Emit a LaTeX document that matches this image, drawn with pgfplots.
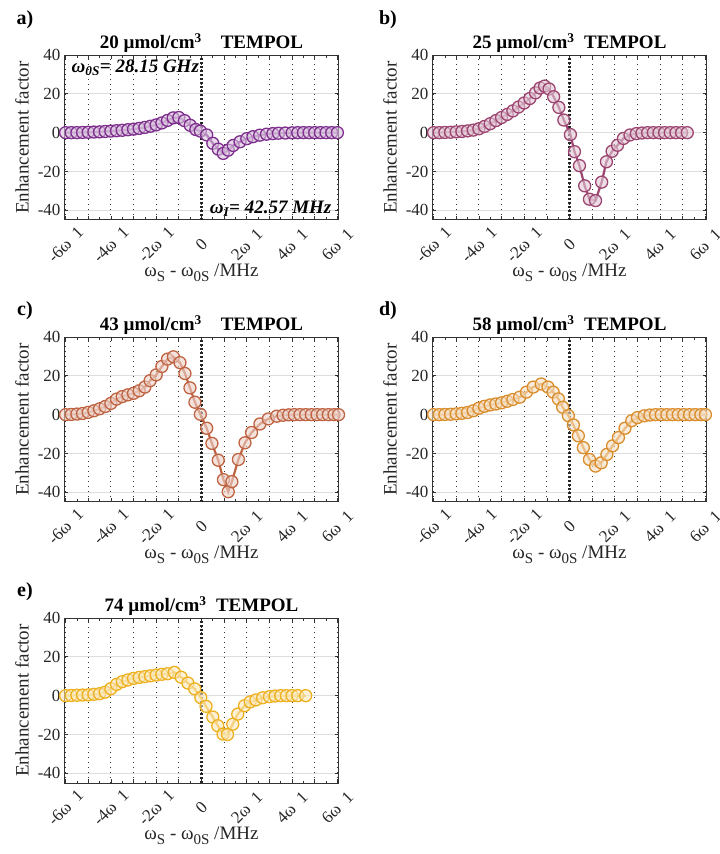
\documentclass[border=0pt]{standalone}
\usepackage{pgfplots}
\pgfplotsset{compat=1.18}
\usepackage{fontspec}
\setmainfont{Liberation Serif}
\definecolor{ca}{HTML}{7E2F8E}
\definecolor{cb}{HTML}{9C4570}
\definecolor{cc}{HTML}{BF6443}
\definecolor{cd}{HTML}{D98D2C}
\definecolor{ce}{HTML}{EDB120}
\newcommand{\sub}[1]{\raisebox{-5pt}{\fontsize{15}{15}\selectfont #1}}
\pgfplotsset{
 panel/.style={
   scale only axis, width=275pt, height=165pt,
   xmin=-6.07, xmax=6.07, ymin=-45, ymax=40,
   xtick={-6,-4,-2,0,2,4,6},
   xticklabels={-6ω~~1,-4ω~~1,-2ω~~1,0,2ω~~1,4ω~~1,6ω~~1},
   minor x tick num=3,
   ytick={-40,-20,0,20,40},
   tick align=inside,
   major tick length=4pt, minor tick length=2.5pt,
   every tick/.style={black!80, line width=0.7pt},
   xmajorgrids, ymajorgrids,
   major x grid style={black!80, line width=1.2pt, dash pattern=on 1.2pt off 3.8pt},
   major y grid style={black!13, line width=1pt},
   extra x ticks={-5,-3,-1,1,3,5},
   extra x tick labels={},
   extra x tick style={grid=major},
   axis line style={black!80, line width=1pt},
   tick label style={font=\fontsize{17}{20}\selectfont, text=black!85},
   /pgf/number format/assume math mode=true,
   xticklabel style={yshift=-25pt, rotate=45, anchor=center},
   label style={font=\fontsize{19}{22}\selectfont, text=black!85},
   ylabel={Enhancement factor},
   xlabel={ω\sub{S} - ω\sub{0S} /MHz},
   ylabel style={at={(axis description cs:-0.153,0.5)}, anchor=center},
   xlabel style={at={(axis description cs:0.5,-0.322)}, anchor=center},
   title style={at={(axis description cs:0.5,1)}, anchor=south, yshift=-7pt, font=\bfseries\fontsize{19}{22}\selectfont},
 },
 ser/.style={color=#1, line width=2.2pt, mark=*, mark size=6pt,
   mark options={line width=1.3pt, draw=#1, fill=#1!30, fill opacity=0.6}},
}
\newcommand{\zeroline}{\draw[black!85, line width=2.2pt, dash pattern=on 2pt off 2pt] (axis cs:0,-45) -- (axis cs:0,40);}
\begin{document}
\begin{tikzpicture}
\useasboundingbox (0,0) rectangle (720pt,854pt);
\node[font=\bfseries\fontsize{20}{24}\selectfont] at (25pt,834pt) {a)};
\node[font=\bfseries\fontsize{20}{24}\selectfont] at (388pt,834pt) {b)};
\node[font=\bfseries\fontsize{20}{24}\selectfont] at (25pt,543pt) {c)};
\node[font=\bfseries\fontsize{20}{24}\selectfont] at (388pt,543pt) {d)};
\node[font=\bfseries\fontsize{20}{24}\selectfont] at (25pt,262pt) {e)};

% a
\begin{axis}[panel, at={(64pt,634pt)}, anchor=south west,
  title={20 µmol/cm\textsuperscript{3}\quad TEMPOL}]
\zeroline
\addplot[ser=ca] coordinates {(-6.0,0) (-5.75,0) (-5.5,0) (-5.25,0.1) (-5.0,0.2) (-4.75,0.3) (-4.5,0.4) (-4.25,0.6) (-4.0,0.8) (-3.75,1.0) (-3.5,1.2) (-3.25,1.5) (-3.0,1.8) (-2.75,2.2) (-2.5,2.7) (-2.25,3.3) (-2.0,4.0) (-1.75,5.0) (-1.5,6.3) (-1.25,7.6) (-1.0,7.8) (-0.75,6.2) (-0.5,3.8) (-0.25,1.6) (-0.05,0.8) (0.23,-1.2) (0.5,-5.5) (0.74,-8.5) (0.96,-10.7) (1.18,-9.0) (1.4,-6.6) (1.7,-4.7) (2.0,-3.1) (2.27,-2.1) (2.57,-1.3) (2.87,-0.8) (3.15,-0.5) (3.4,-0.3) (3.7,-0.2) (4.0,-0.1) (4.25,0) (4.5,0) (4.75,0) (5.0,0) (5.25,0) (5.5,0) (5.75,0) (6.0,0)};
\node[anchor=north west, font=\bfseries\itshape\fontsize{19}{22}\selectfont] at (rel axis cs:0.015,0.99) {ω\textsubscript{0S}= 28.15 GHz};
\node[anchor=south east, font=\bfseries\itshape\fontsize{19}{22}\selectfont] at (rel axis cs:0.985,0.0) {ω\textsubscript{I}= 42.57 MHz};
\end{axis}

% b
\begin{axis}[panel, at={(432pt,634pt)}, anchor=south west,
  title={25 µmol/cm\textsuperscript{3}\enspace TEMPOL}]
\zeroline
\addplot[ser=cb] coordinates {(-6.0,0) (-5.75,0) (-5.5,0.1) (-5.25,0.2) (-5.0,0.4) (-4.75,0.6) (-4.5,0.9) (-4.25,1.3) (-4.0,2.0) (-3.75,3.2) (-3.5,4.6) (-3.25,6.2) (-3.0,7.8) (-2.75,9.4) (-2.5,11.2) (-2.25,13.2) (-2.0,15.3) (-1.75,17.6) (-1.5,20.5) (-1.3,23.0) (-1.1,24.0) (-0.9,22.5) (-0.7,18.5) (-0.47,13) (-0.25,6.5) (0.04,-1) (0.22,-9.8) (0.44,-17) (0.67,-27.4) (0.88,-34.3) (1.15,-35) (1.42,-25.5) (1.63,-15) (1.88,-9.6) (2.12,-6.5) (2.38,-3) (2.67,-1.2) (2.95,-0.5) (3.2,-0.2) (3.45,0) (3.7,0) (3.95,0) (4.2,0) (4.45,0) (4.7,0) (4.95,0) (5.2,0)};
\end{axis}

% c
\begin{axis}[panel, at={(64pt,352pt)}, anchor=south west,
  title={43 µmol/cm\textsuperscript{3}\quad TEMPOL}]
\zeroline
\addplot[ser=cc] coordinates {(-6.0,0) (-5.75,0.1) (-5.5,0.3) (-5.25,0.6) (-5.0,1.2) (-4.75,2.0) (-4.5,3.0) (-4.25,4.2) (-4.0,5.8) (-3.75,8.0) (-3.5,9.3) (-3.25,10.2) (-3.0,11.0) (-2.75,12.3) (-2.5,14.2) (-2.27,17.5) (-2.0,20.5) (-1.75,24.8) (-1.5,28.6) (-1.24,29.8) (-0.95,26.8) (-0.73,21.2) (-0.51,13.8) (-0.29,6.4) (-0.05,0.2) (0.23,-7.0) (0.46,-14.8) (0.74,-23.5) (0.97,-33.5) (1.18,-39.7) (1.34,-34.5) (1.63,-23.1) (1.92,-14.5) (2.21,-9.2) (2.58,-4.8) (2.95,-2.2) (3.32,-0.8) (3.6,-0.3) (3.85,-0.1) (4.1,0) (4.35,0) (4.6,0) (4.85,0) (5.1,0) (5.35,0) (5.6,0) (5.85,0) (6.05,0)};
\end{axis}

% d
\begin{axis}[panel, at={(432pt,352pt)}, anchor=south west,
  title={58 µmol/cm\textsuperscript{3}\enspace TEMPOL}]
\zeroline
\addplot[ser=cd] coordinates {(-6.0,0) (-5.75,0) (-5.5,0.1) (-5.25,0.2) (-5.0,0.4) (-4.75,0.7) (-4.5,1.1) (-4.25,2.0) (-4.0,3.3) (-3.75,4.3) (-3.5,5.0) (-3.25,5.5) (-3.0,6.1) (-2.75,6.9) (-2.5,7.8) (-2.2,9.0) (-1.9,11.6) (-1.6,14.2) (-1.25,15.8) (-0.95,14.2) (-0.72,11.6) (-0.49,8.1) (-0.3,3.8) (-0.05,-0.5) (0.17,-5.3) (0.39,-10.9) (0.61,-17) (0.88,-23.1) (1.15,-26.5) (1.4,-24.8) (1.65,-20.5) (1.9,-16.1) (2.16,-11.8) (2.45,-7) (2.75,-3.1) (3.0,-1.5) (3.3,-0.6) (3.55,-0.2) (3.8,0) (4.05,0) (4.3,0) (4.55,0) (4.8,0) (5.05,0) (5.3,0) (5.55,0) (5.8,0) (6.0,0)};
\end{axis}

% e
\begin{axis}[panel, at={(64pt,71pt)}, anchor=south west,
  title={74 µmol/cm\textsuperscript{3}\enspace TEMPOL}]
\zeroline
\addplot[ser=ce] coordinates {(-6.0,0) (-5.75,0.1) (-5.5,0.2) (-5.25,0.3) (-5.0,0.4) (-4.75,0.7) (-4.5,1.0) (-4.25,1.8) (-4.0,3.6) (-3.75,5.8) (-3.5,7.2) (-3.25,8.1) (-3.0,8.9) (-2.75,9.4) (-2.5,9.8) (-2.25,10.2) (-2.0,10.6) (-1.75,11.0) (-1.5,11.3) (-1.2,12.0) (-0.9,9.5) (-0.6,6.5) (-0.3,3.5) (-0.03,-1) (0.2,-5.5) (0.5,-11) (0.72,-15.5) (0.95,-19.8) (1.15,-20) (1.38,-14.7) (1.6,-9.5) (1.9,-5.2) (2.15,-3.2) (2.4,-2.2) (2.7,-1.1) (3.0,-0.5) (3.25,-0.2) (3.5,0) (3.75,0) (4.0,0) (4.25,0) (4.6,0)};
\end{axis}
\end{tikzpicture}
\end{document}
